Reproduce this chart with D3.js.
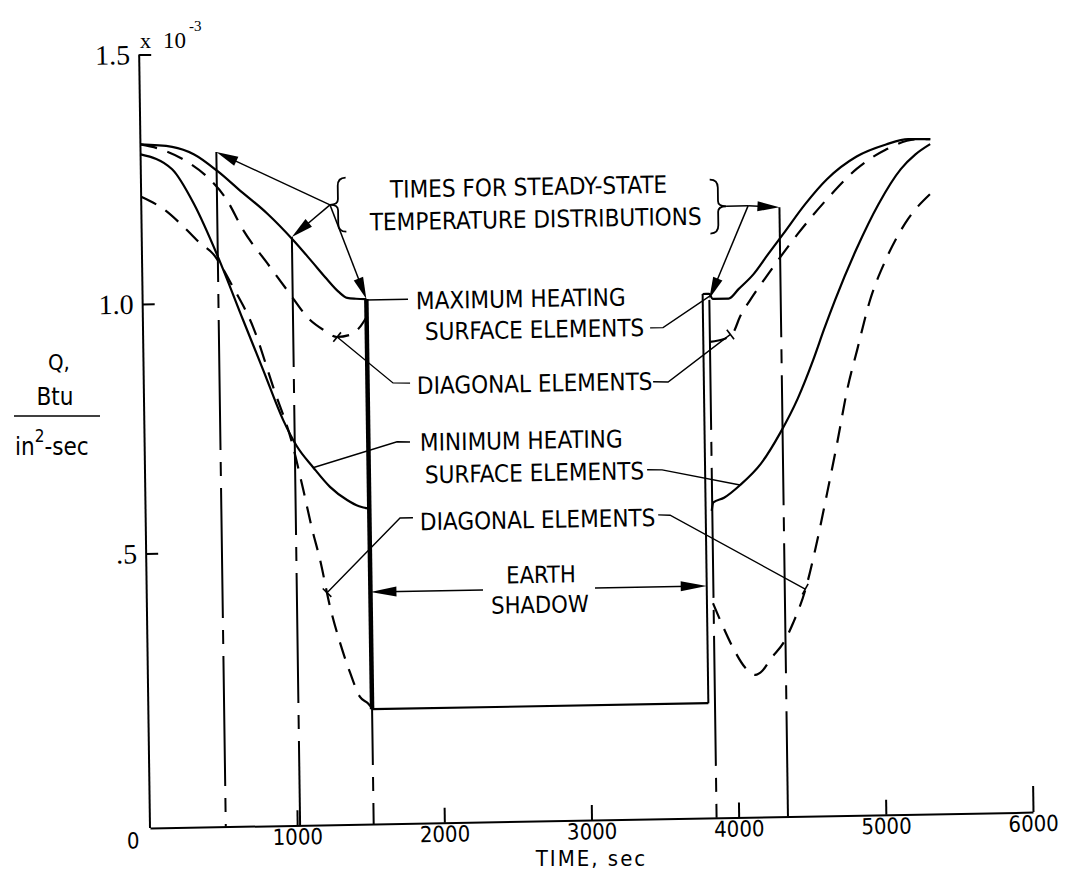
<!DOCTYPE html>
<html><head><meta charset="utf-8">
<script src="https://cdn.jsdelivr.net/npm/d3@7"></script>
<style>
body{margin:0;background:#fff}
svg{display:block;background:#fff}
text{font-family:"DejaVu Sans Condensed","DejaVu Sans",sans-serif;font-stretch:condensed;fill:#000}
.serif{font-family:"Liberation Serif","DejaVu Serif",serif;font-stretch:normal}
</style></head><body>
<svg id="c" width="1068" height="871"></svg>
<script>
// ---------- data (time in sec, Q in 1e-3 Btu/in^2-sec) ----------
const xTickValues=[1000,2000,3000,4000,5000,6000];
const yTickValues=[0.5,1.0,1.5];
const yTickLabels=[".5","1.0","1.5"];
const shadowStart=1520, shadowEnd=3805, shadowFloor=0.18;
const maxHeatLeft=[[0,1.32],[215,1.314],[364,1.298],[524,1.263],[661,1.227],[858,1.176],[1028,1.123],[1154,1.079],[1252,1.044],[1331,1.018],[1390,1.005],[1450,1.003],[1520,1.002]];
const maxHeatRight=[[3805,1.0],[3850,1.0],[3872,0.99],[3981,0.99],[4051,1.009],[4153,1.038],[4255,1.078],[4357,1.117],[4509,1.176],[4662,1.226],[4864,1.27],[5065,1.293],[5216,1.303],[5366,1.302]];
const maxDiagLeft=[[0,1.32],[133,1.31],[314,1.284],[449,1.253],[583,1.205],[689,1.145],[849,1.078],[982,1.023],[1136,0.962],[1224,0.942],[1318,0.927],[1406,0.931],[1476,0.947],[1520,0.966]];
const maxDiagRight=[[3851,0.904],[3947,0.909],[4008,0.921],[4058,0.954],[4127,0.986],[4253,1.038],[4457,1.117],[4660,1.186],[4863,1.245],[5065,1.283],[5266,1.302],[5366,1.302]];
const minHeatLeft=[[0,1.30],[213,1.269],[359,1.198],[516,1.092],[680,0.965],[812,0.864],[943,0.763],[1035,0.709],[1142,0.667],[1255,0.627],[1370,0.60],[1451,0.587],[1520,0.582]];
const minHeatRight=[[3846,0.565],[3858,0.582],[3931,0.591],[4042,0.616],[4185,0.658],[4319,0.719],[4441,0.787],[4550,0.864],[4628,0.926],[4704,0.983],[4855,1.085],[5009,1.174],[5163,1.243],[5264,1.272],[5365,1.292]];
const minDiagLeft=[[0,1.215],[149,1.19],[274,1.157],[396,1.12],[483,1.098],[615,1.031],[748,0.95],[878,0.83],[1008,0.709],[1072,0.624],[1129,0.544],[1181,0.481],[1244,0.387],[1309,0.314],[1374,0.254],[1439,0.205],[1492,0.192],[1520,0.182]];
const minDiagRight=[[3846,0.38],[3893,0.346],[3978,0.29],[4058,0.25],[4126,0.235],[4175,0.243],[4229,0.265],[4333,0.304],[4389,0.338],[4474,0.403],[4545,0.483],[4632,0.597],[4705,0.697],[4778,0.803],[4850,0.883],[4942,0.982],[5054,1.063],[5208,1.143],[5360,1.192]];
// steady-state time lines: [time, top Q]
const steadyTimes=[[515,1.302],[1020,1.129],[1520,1.002],[3850,0.988],[4335,1.171]];
// annotation anchors (data coords)
const braceLeftTip=[1282,1.192], braceRightTip=[4122,1.175];
const arrowTargetsLeft=[[515,1.302],[1020,1.129],[1520,1.002]];
const arrowTargetsRight=[[3850,0.99],[4335,1.171]];
const titleLines=[["TIMES FOR STEADY-STATE",1691,1.204],["TEMPERATURE DISTRIBUTIONS",1551,1.139]];
const labels=[["MAXIMUM HEATING",1857,0.980],["SURFACE ELEMENTS",1915,0.918],["DIAGONAL ELEMENTS",1856,0.810],
  ["MINIMUM HEATING",1871,0.696],["SURFACE ELEMENTS",1901,0.631],["DIAGONAL ELEMENTS",1863,0.537]];
const shadowLabels=[["EARTH",2680,0.427],["SHADOW",2670,0.367]];
const leaders=[
 {pts:[[1520,1.0],[1803,1.0]],tick:false},
 {pts:[[3445,0.934],[3533,0.934],[3860,0.997]],tick:false},
 {pts:[[1809,0.832],[1693,0.833],[1318,0.927]],tick:true},
 {pts:[[3460,0.826],[3562,0.825],[3990,0.918]],tick:true},
 {pts:[[1803,0.714],[1715,0.715],[1141,0.666]],tick:false},
 {pts:[[3411,0.650],[3513,0.649],[4041,0.616]],tick:false},
 {pts:[[1816,0.562],[1728,0.562],[1225,0.415]],tick:true},
 {pts:[[3482,0.559],[3563,0.558],[4474,0.405]],tick:true}];
const shadowArrowQ=0.415, shadowArrowGap=[2285,3046];

// ---------- drawing ----------
const svg=d3.select("#c");
const x=d3.scaleLinear().domain([0,6000]).range([150,1033]);
const y=d3.scaleLinear().domain([-0.05,1.5]).range([828,54.6]);
// the scanned original is slightly skewed; reproduce with a small affine transform about the origin
const SA=0.014, SB=-0.018;
const g=svg.append("g").attr("transform",`matrix(1,${SB},${SA},1,${-828*SA},${-150*SB})`);
const curve=d3.line().x(d=>x(d[0])).y(d=>y(d[1])).curve(d3.curveMonotoneX);
const straight=d3.line().x(d=>x(d[0])).y(d=>y(d[1]));

// axes
const xAxis=d3.axisBottom(x).tickValues(xTickValues).tickSize(-15).tickSizeOuter(0).tickPadding(3.5).tickFormat(d3.format("d"));
const gx=g.append("g").attr("transform",`translate(0,${y(-0.05)})`).call(xAxis);
gx.selectAll("text").attr("font-size",22);
gx.selectAll("line,path").attr("stroke","#000").attr("stroke-width",2);
gx.selectAll(".tick").filter(d=>d===6000).select("line").attr("y2",-26);
g.append("text").attr("x",x(0)-17).attr("y",y(-0.05)+20).attr("font-size",22).attr("text-anchor","middle").text("0");
const yAxis=d3.axisLeft(y).tickValues(yTickValues).tickSize(-12).tickSizeOuter(0).tickPadding(9).tickFormat((d,i)=>yTickLabels[i]);
const gy=g.append("g").attr("transform",`translate(${x(0)},0)`).call(yAxis);
gy.selectAll("text").attr("class","serif").attr("font-size",28);
gy.selectAll("line,path").attr("stroke","#000").attr("stroke-width",2);
gy.select(".domain").attr("d",`M0,${y(-0.05)}V${y(1.5)}`);

// multiplier (outside skew)
svg.append("text").attr("class","serif").attr("x",140).attr("y",48).attr("font-size",22).text("x");
svg.append("text").attr("class","serif").attr("x",163).attr("y",48).attr("font-size",23).text("10");
svg.append("text").attr("class","serif").attr("x",189).attr("y",31).attr("font-size",15).text("-3");

// y-axis title
svg.append("text").attr("x",48).attr("y",370).attr("font-size",22).text("Q,");
svg.append("text").attr("x",55).attr("y",405).attr("font-size",24).attr("text-anchor","middle").text("Btu");
svg.append("line").attr("x1",14).attr("x2",100).attr("y1",416).attr("y2",416).attr("stroke","#000").attr("stroke-width",1.5);
const den=svg.append("text").attr("x",15).attr("y",455).attr("font-size",24);
den.append("tspan").text("in");
den.append("tspan").attr("font-size",17).attr("dy",-13).text("2");
den.append("tspan").attr("dy",13).text("-sec");

// x-axis title
svg.append("text").attr("x",x(3000)).attr("y",866).attr("font-size",22).attr("letter-spacing",2).attr("text-anchor","middle").text("TIME, sec");

// steady-state lines (dash-dot)
g.selectAll(".ss").data(steadyTimes).join("path").attr("class","ss")
 .attr("d",d=>straight([[d[0],d[1]],[d[0],-0.05]]))
 .attr("stroke","#000").attr("stroke-width",2).attr("fill","none").attr("stroke-dasharray","130,12,14,12");

// shadow boundaries and floor
g.append("path").attr("d",straight([[shadowStart,shadowFloor],[shadowStart,1.002]])).attr("stroke","#000").attr("stroke-width",4.5).attr("fill","none");
g.append("path").attr("d",straight([[shadowEnd,shadowFloor],[shadowEnd,1.0]])).attr("stroke","#000").attr("stroke-width",2).attr("fill","none");
g.append("path").attr("d",straight([[shadowStart,shadowFloor],[shadowEnd,shadowFloor]])).attr("stroke","#000").attr("stroke-width",2.2).attr("fill","none");

// curves
const solid=[maxHeatLeft,maxHeatRight,minHeatLeft,minHeatRight];
const dashed=[maxDiagLeft,maxDiagRight,minDiagLeft,minDiagRight];
g.selectAll(".sol").data(solid).join("path").attr("class","sol").attr("d",curve).attr("fill","none").attr("stroke","#000").attr("stroke-width",2.2);
g.selectAll(".dsh").data(dashed).join("path").attr("class","dsh").attr("d",curve).attr("fill","none").attr("stroke","#000").attr("stroke-width",2.2).attr("stroke-dasharray","17,11");

// arrows helper
function arrow(p0,p1,len=22,w=5){
  const x0=x(p0[0]),y0=y(p0[1]),x1=x(p1[0]),y1=y(p1[1]);
  const dx=x1-x0,dy=y1-y0,L=Math.hypot(dx,dy),ux=dx/L,uy=dy/L;
  g.append("line").attr("x1",x0).attr("y1",y0).attr("x2",x1-ux*len*0.6).attr("y2",y1-uy*len*0.6).attr("stroke","#000").attr("stroke-width",1.5);
  const bx=x1-ux*len,by=y1-uy*len;
  g.append("polygon").attr("points",`${x1},${y1} ${bx-uy*w},${by+ux*w} ${bx+uy*w},${by-ux*w}`).attr("fill","#000");
}
arrowTargetsLeft.forEach(t=>arrow(braceLeftTip,t));
arrowTargetsRight.forEach(t=>arrow(braceRightTip,t));
arrow([shadowArrowGap[0],shadowArrowQ],[shadowStart,shadowArrowQ],26,5);
arrow([shadowArrowGap[1],shadowArrowQ],[shadowEnd,shadowArrowQ],26,5);

// braces
function brace(cx,top,bot,dir){
  const w=8*dir, m=(top+bot)/2, h=bot-top;
  const p=`M${cx+w},${top} Q${cx},${top} ${cx},${top+h*0.15} L${cx},${m-h*0.1} Q${cx},${m} ${cx-w},${m} Q${cx},${m} ${cx},${m+h*0.1} L${cx},${bot-h*0.15} Q${cx},${bot} ${cx+w},${bot}`;
  g.append("path").attr("d",p).attr("fill","none").attr("stroke","#000").attr("stroke-width",1.8);
}
brace(x(braceLeftTip[0])+8,y(braceLeftTip[1])-27,y(braceLeftTip[1])+27,1);
brace(x(braceRightTip[0])-30,y(braceRightTip[1])-27,y(braceRightTip[1])+27,-1);
g.append("line").attr("x1",x(braceRightTip[0])-22).attr("x2",x(braceRightTip[0])).attr("y1",y(braceRightTip[1])).attr("y2",y(braceRightTip[1])).attr("stroke","#000").attr("stroke-width",1.5);

// title
g.selectAll(".ttl").data(titleLines).join("text").attr("class","ttl").attr("x",d=>x(d[1])).attr("y",d=>y(d[2])).attr("font-size",24).text(d=>d[0]);
// labels
g.selectAll(".lbl").data(labels).join("text").attr("class","lbl").attr("x",d=>x(d[1])).attr("y",d=>y(d[2])).attr("font-size",24).text(d=>d[0]);
g.selectAll(".slb").data(shadowLabels).join("text").attr("class","slb").attr("x",d=>x(d[1])).attr("y",d=>y(d[2])).attr("font-size",23.5).attr("text-anchor","middle").text(d=>d[0]);
// leaders
leaders.forEach(l=>{
  g.append("path").attr("d",straight(l.pts)).attr("fill","none").attr("stroke","#000").attr("stroke-width",1.4);
  if(l.tick){
    const a=l.pts[l.pts.length-2],b=l.pts[l.pts.length-1];
    const x0=x(a[0]),y0=y(a[1]),x1=x(b[0]),y1=y(b[1]);
    const L=Math.hypot(x1-x0,y1-y0),px=-(y1-y0)/L*6,py=(x1-x0)/L*6;
    g.append("line").attr("x1",x1-px).attr("y1",y1-py).attr("x2",x1+px).attr("y2",y1+py).attr("stroke","#000").attr("stroke-width",1.6);
  }
});
</script>
</body></html>
